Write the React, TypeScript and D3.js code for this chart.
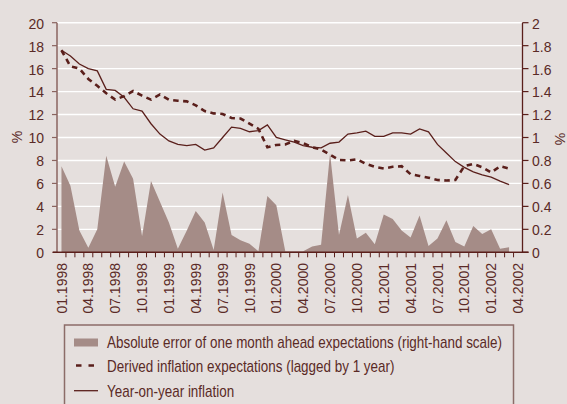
import React from "react";
import * as d3 from "d3";

// monthly, 01.1998 .. 03.2002 (the axis runs one month further, to 04.2002)
const inflation = [
  17.6, 17.1, 16.4, 16.0, 15.8, 14.2, 14.1, 13.5, 12.5, 12.3, 11.2, 10.3,
  9.7, 9.4, 9.3, 9.4, 8.9, 9.1, 10.0, 10.9, 10.8, 10.5, 10.6, 11.1,
  10.0, 9.8, 9.6, 9.3, 9.15, 9.1, 9.5, 9.6, 10.3, 10.4, 10.55, 10.1,
  10.1, 10.4, 10.4, 10.3, 10.75, 10.5, 9.4, 8.65, 7.9, 7.4, 7.0, 6.75,
  6.55, 6.2, 5.9,
];

const expectations = [
  17.6, 16.2, 16.0, 15.1, 14.5, 13.85, 13.3, 13.6, 14.05, 13.65, 13.3, 13.75,
  13.3, 13.2, 13.15, 12.8, 12.3, 12.1, 12.05, 11.7, 11.65, 11.2, 10.75, 9.15,
  9.35, 9.4, 9.7, 9.5, 9.15, 8.95, 8.5, 8.05, 8.0, 8.1, 7.7, 7.45,
  7.3, 7.45, 7.5, 6.8, 6.65, 6.5, 6.3, 6.25, 6.3, 7.5, 7.7, 7.4,
  6.95, 7.5, 7.3,
];

// right-hand scale
const absError = [
  0.75, 0.58, 0.19, 0.04, 0.2, 0.84, 0.57, 0.79, 0.64, 0.14, 0.62, 0.44,
  0.26, 0.03, 0.19, 0.36, 0.26, 0.02, 0.52, 0.15, 0.105, 0.075, 0.01, 0.49,
  0.41, 0.01, 0.01, 0.01, 0.05, 0.065, 0.86, 0.15, 0.5, 0.12, 0.17, 0.07,
  0.33, 0.29, 0.19, 0.13, 0.32, 0.055, 0.12, 0.28, 0.09, 0.05, 0.23, 0.16,
  0.2, 0.03, 0.045,
];

const monthLabels = [
  "01.1998", "04.1998", "07.1998", "10.1998",
  "01.1999", "04.1999", "07.1999", "10.1999",
  "01.2000", "04.2000", "07.2000", "10.2000",
  "01.2001", "04.2001", "07.2001", "10.2001",
  "01.2002", "04.2002",
];
const leftTicks = [0, 2, 4, 6, 8, 10, 12, 14, 16, 18, 20];
const rightTicks = [0, 0.2, 0.4, 0.6, 0.8, 1, 1.2, 1.4, 1.6, 1.8, 2];
const legendItems = [
  "Absolute error of one month ahead expectations (right-hand scale)",
  "Derived inflation expectations (lagged by 1 year)",
  "Year-on-year inflation",
];

const W = 567;
const H = 404;
const nMonths = 52;
const bg = "#e5dfdd";
const areaCol = "#a58c87";
const dark = "#5a1f1b";
const textCol = "#5a2a26";
const font = "'Liberation Sans', Arial, sans-serif";

export default function App() {
  const left = 57;
  const right = 522.5;
  const top = 22.7;
  const bottom = 252.3;

  const x = d3.scaleLinear().domain([0, nMonths]).range([left, right]);
  const yL = d3.scaleLinear().domain([0, 20]).range([bottom, top]);
  const yR = d3.scaleLinear().domain([0, 2]).range([bottom, top]);
  const cx = (i: number) => x(i + 0.5);

  const areaPath = d3
    .area<number>()
    .x((_, i) => cx(i))
    .y0(yR(0))
    .y1((d) => yR(d))(absError) as string;
  const line = d3
    .line<number>()
    .x((_, i) => cx(i))
    .y((d) => yL(d));

  const boundaries = d3.range(1, nMonths);
  // no condensed face installed, so the legend text is squeezed horizontally
  const squeeze = 0.84;

  return (
    <svg
      width={W}
      height={H}
      style={{ position: "absolute", left: 0, top: 0, display: "block" }}
    >
      <rect x={0} y={0} width={W} height={H} fill={bg} />

      {leftTicks.map((t) => (
        <line key={"g" + t} x1={left} x2={right} y1={yL(t)} y2={yL(t)} stroke="#ffffff" strokeWidth={1.4} />
      ))}

      <path d={areaPath} fill={areaCol} />
      <path d={line(expectations) as string} fill="none" stroke={dark} strokeWidth={2.6} strokeDasharray="5.5,4.5" />
      <path d={line(inflation) as string} fill="none" stroke={dark} strokeWidth={1.3} />

      {/* left axis */}
      <line x1={left} x2={left} y1={top} y2={bottom} stroke="#8a645f" strokeWidth={1.5} />
      {leftTicks.map((t) => (
        <g key={"l" + t}>
          <line x1={left - 5} x2={left} y1={yL(t)} y2={yL(t)} stroke="#8a645f" strokeWidth={1.2} />
          <text x={44} y={yL(t)} dy="0.42em" textAnchor="end" fontFamily={font} fontSize={14} fill={textCol}>
            {t}
          </text>
        </g>
      ))}
      <text transform={`translate(22,137) rotate(-90)`} textAnchor="middle" fontFamily={font} fontSize={14} fill={textCol}>
        %
      </text>

      {/* right axis */}
      <line x1={right} x2={right} y1={top} y2={bottom} stroke={dark} strokeWidth={1.3} />
      {rightTicks.map((t) => (
        <g key={"r" + t}>
          <line x1={right} x2={right + 6} y1={yR(t)} y2={yR(t)} stroke={dark} strokeWidth={1.2} />
          <text x={532} y={yR(t)} dy="0.42em" textAnchor="start" fontFamily={font} fontSize={14} fill={textCol}>
            {t}
          </text>
        </g>
      ))}
      <text transform={`translate(555,139) rotate(90)`} textAnchor="middle" fontFamily={font} fontSize={14} fill={textCol}>
        %
      </text>

      {/* bottom axis */}
      <line x1={left - 4} x2={right + 6} y1={bottom} y2={bottom} stroke={dark} strokeWidth={1.4} />
      {boundaries.map((k) => (
        <line key={"t" + k} x1={x(k)} x2={x(k)} y1={bottom} y2={bottom + 5} stroke={dark} strokeWidth={1} />
      ))}
      {monthLabels.map((lab, j) => (
        <text
          key={lab}
          transform={`translate(${cx(j * 3)},263) rotate(-90)`}
          dy="0.36em"
          textAnchor="end"
          fontFamily={font}
          fontSize={14}
          fill={textCol}
        >
          {lab}
        </text>
      ))}

      {/* legend */}
      <rect x={64.5} y={325} width={449} height={100} fill="none" stroke="#8c6c68" strokeWidth={1.5} />
      <rect x={74} y={338.5} width={24} height={8} fill={areaCol} />
      <line x1={76} x2={96} y1={365.5} y2={365.5} stroke={dark} strokeWidth={2.6} strokeDasharray="5.5,7" />
      <line x1={74} x2={98} y1={390.7} y2={390.7} stroke={dark} strokeWidth={1.3} />
      {legendItems.map((s, i) => (
        <text
          key={s}
          transform={`translate(107,${347.5 + i * 24.5}) scale(${squeeze},1)`}
          fontFamily={font}
          fontSize={16}
          fill={textCol}
        >
          {s}
        </text>
      ))}
    </svg>
  );
}
